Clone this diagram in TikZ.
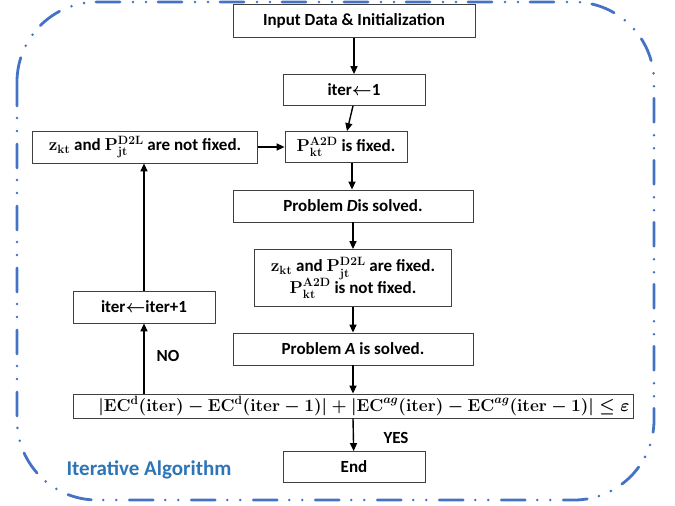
\documentclass[tikz,border=0pt]{standalone}
\usepackage{amsmath}
\usepackage{amssymb}
\usepackage[no-math]{fontspec}
\setmainfont{Carlito}
\usetikzlibrary{arrows.meta}
\definecolor{frameblue}{HTML}{4472C4}
\definecolor{titleblue}{HTML}{2E75B6}
\newcommand{\convtext}{\mbox{}\kern22pt\mbox{\boldmath$\vert\mathbf{EC^{d}(iter)}-\mathbf{EC^{d}(iter}-\mathbf{1)}\vert+\vert\mathbf{EC}^{ag}\mathbf{(iter)}-\mathbf{EC}^{ag}\mathbf{(iter}-\mathbf{1)}\vert\leq\varepsilon$}}
\tikzset{
  box/.style={draw=black!75, line width=0.8pt, fill=white, inner sep=0pt, align=center,
    font=\bfseries\fontsize{17}{19}\selectfont\boldmath},
  arr/.style={-{Triangle[length=8pt,width=7pt]}, line width=1.4pt},
  lbl/.style={font=\bfseries\fontsize{17}{19}\selectfont},
  frame/.style={draw=frameblue, line width=2.8pt, line cap=round, rounded corners=80pt,
    dash pattern=on 24pt off 12pt on 0pt off 13pt on 0pt off 13pt}
}
\begin{document}
\begin{tikzpicture}[x=1pt,y=-1pt]
\useasboundingbox (0,0) rectangle (675,506);
\draw[frame] (17,2) rectangle (654,500);
\node[box, minimum width=242pt, minimum height=33pt] (init) at (354,21) {Input Data \& Initialization};
\node[box, minimum width=142pt, minimum height=31pt] (it1) at (354,90) {iter$\boldsymbol{\leftarrow}$1};
\node[box, minimum width=122pt, minimum height=31pt] (fixA) at (346,147) {$\mathbf{P^{A2D}_{kt}}$ is fixed.};
\node[box, minimum width=225pt, minimum height=32pt] (notfix) at (145,147) {$\mathbf{z_{kt}}$ and $\mathbf{P^{D2L}_{jt}}$ are not fixed.};
\node[box, minimum width=240pt, minimum height=32pt] (probD) at (353,206) {Problem \textit{D}is solved.};
\node[box, minimum width=197pt, minimum height=57pt] (fixzP) at (353,278) {$\mathbf{z_{kt}}$ and $\mathbf{P^{D2L}_{jt}}$ are fixed.\\[-2pt] $\mathbf{P^{A2D}_{kt}}$ is not fixed.};
\node[box, minimum width=240pt, minimum height=32pt] (probA) at (353,349) {Problem \textit{A} is solved.};
\node[box, minimum width=560pt, minimum height=24pt, font=\bfseries\fontsize{17.9}{20}\selectfont\boldmath] (conv) at (353,406) {\convtext};
\node[box, minimum width=142pt, minimum height=32pt] (itinc) at (144,307) {iter$\boldsymbol{\leftarrow}$iter+1};
\node[box, minimum width=142pt, minimum height=31pt] (end) at (354,467) {End};
\node[lbl] (no) at (168,356) {NO};
\node[lbl] (yes) at (396,438) {YES};
\node[font=\bfseries\fontsize{21}{23}\selectfont, text=titleblue] (title) at (149,470) {Iterative Algorithm};
\draw[arr] ([xshift=-1pt]it1.south) -- ([xshift=1pt]fixA.north);
\draw[arr] (init) -- (it1);
\draw[arr] (notfix) -- (fixA);
\draw[arr] ([xshift=6pt]fixA.south) -- ([xshift=6pt]fixA.south |- probD.north);
\draw[arr] (probD) -- (fixzP);
\draw[arr] (fixzP) -- (probA);
\draw[arr] (probA) -- (probA |- conv.north);
\draw[arr] (probA |- conv.south) -- (end);
\draw[arr] (itinc |- conv.north) -- (itinc.south);
\draw[arr] (itinc.north) -- (itinc.north |- notfix.south);
\end{tikzpicture}
\end{document}
